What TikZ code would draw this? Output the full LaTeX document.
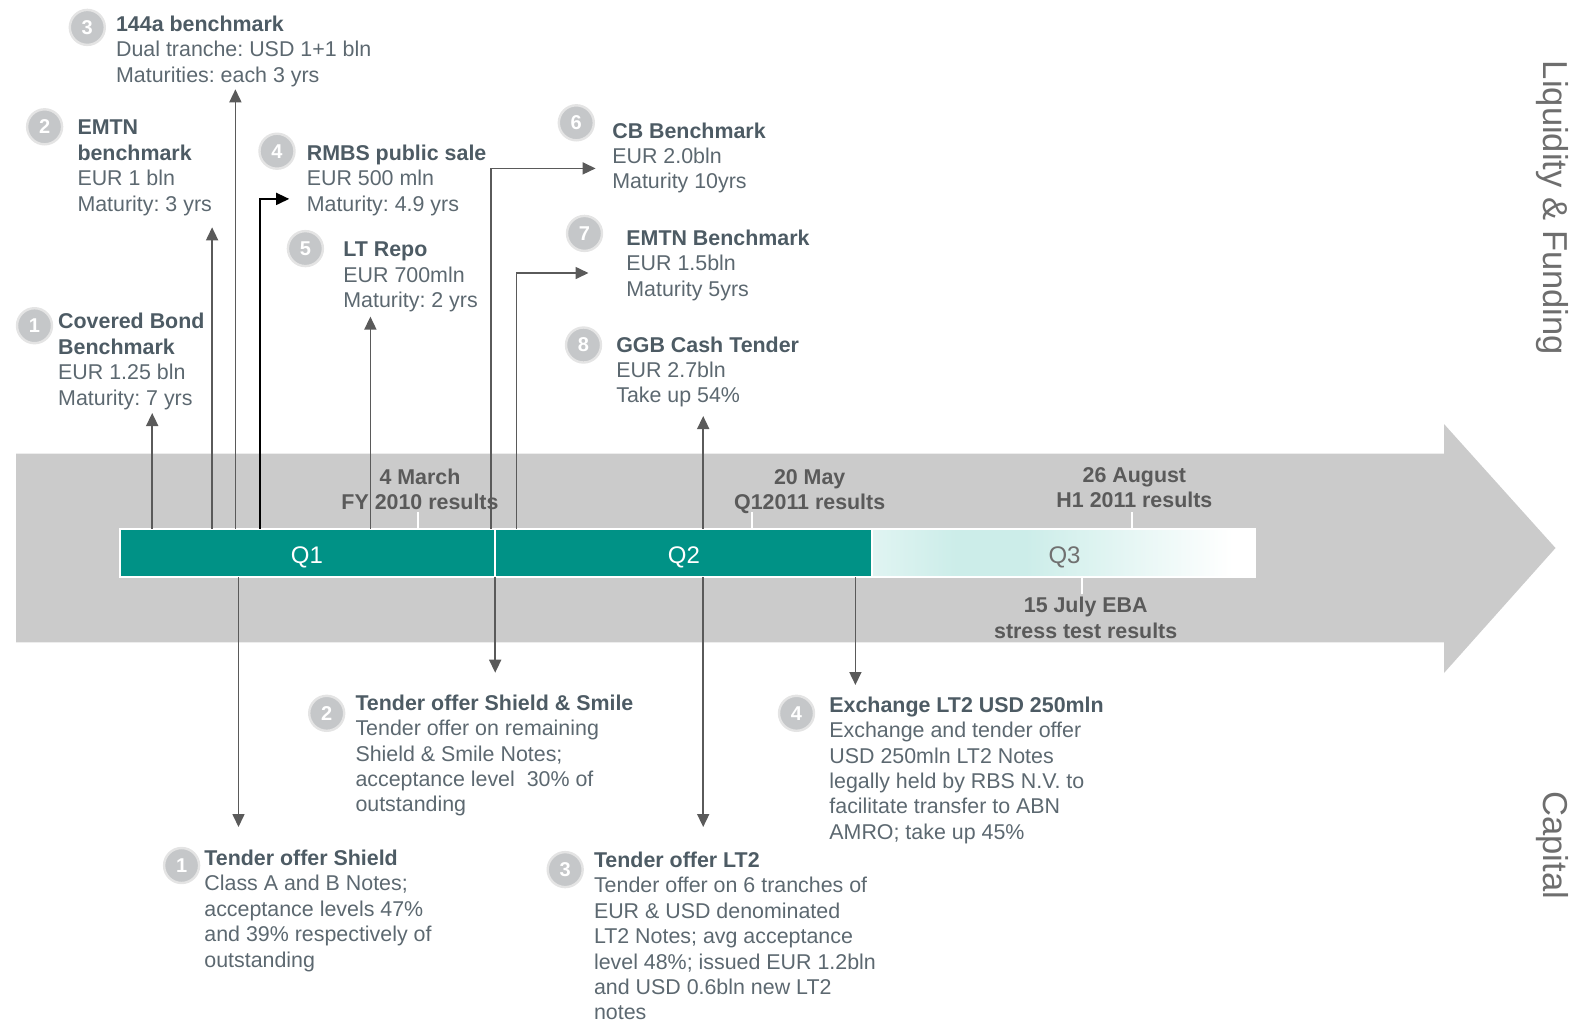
\documentclass[tikz,border=0pt]{standalone}
\usepackage{fontspec}
\setmainfont{Liberation Sans}
\usetikzlibrary{arrows.meta}
\definecolor{teal}{RGB}{0,146,134}
\definecolor{bigc}{RGB}{203,203,203}
\definecolor{badgec}{RGB}{197,199,201}
\definecolor{ringc}{RGB}{228,228,228}
\definecolor{headc}{RGB}{77,91,100}
\definecolor{bodyc}{RGB}{92,104,112}
\definecolor{tlc}{RGB}{90,90,90}
\definecolor{arrc}{RGB}{90,90,90}
\definecolor{sidec}{RGB}{110,110,110}
\definecolor{qthreea}{RGB}{224,244,242}
\definecolor{qthreeb}{RGB}{204,237,233}
\definecolor{qthreet}{RGB}{112,112,112}
\pgfdeclarehorizontalshading{qthree}{100bp}{color(0bp)=(qthreea); color(25bp)=(qthreea); color(36bp)=(qthreeb); color(45bp)=(qthreeb); color(72bp)=(white); color(100bp)=(white)}
\newcommand{\hd}[1]{\textbf{\color{headc}#1}}
\newcommand{\bodyfont}{\fontsize{10.7}{12.7}\selectfont\frenchspacing}
\begin{document}
\frenchspacing
\begin{tikzpicture}[x=0.5pt,y=-0.5pt,
  blk/.style={anchor=base west, inner sep=0pt, text=bodyc, font=\bodyfont, yshift=-0.5pt},
  tl/.style={anchor=base, inner sep=0pt, text=tlc, font=\bodyfont\bfseries, yshift=-0.5pt},
  badge/.style={circle, fill=badgec, draw=ringc, line width=1.2pt, minimum size=17.5pt, inner sep=0pt, text=white, font=\bfseries\fontsize{10}{10}\selectfont},
  arr/.style={draw=arrc, line width=0.8pt, -{Triangle[length=6.5pt,width=6pt]}},
  tick/.style={draw=white, line width=0.8pt},
  qlab/.style={font=\fontsize{12}{12}\selectfont, inner sep=0pt},
  side/.style={font=\fontsize{17.3}{18}\selectfont, text=sidec, rotate=-90, inner sep=0pt}]
\useasboundingbox (0,0) rectangle (1591,1024);

% big grey arrow
\fill[bigc] (16.2,453.6) -- (1444,453.6) -- (1444,424) -- (1555.5,548) -- (1444,673) -- (1444,642.3) -- (16.2,642.3) -- cycle;

% timeline bar
\fill[teal] (119.7,528.7) rectangle (872,577.4);
\shade[shading=qthree] (872,528.7) rectangle (1255,577.4);
\draw[white, line width=1pt] (119.7,528.7) rectangle (1255,577.4);
\draw[white, line width=1pt] (494.7,528.7) -- (494.7,577.4);
\draw[white, line width=1pt] (872,528.7) -- (872,577.4);
\node[qlab, text=white] (q1) at (307,557) {Q1};
\node[qlab, text=white] (q2) at (684,557) {Q2};
\node[qlab, text=qthreet] (q3) at (1064.5,557) {Q3};

% ticks
\draw[tick] (418,512.4) -- (418,528.7);
\draw[tick] (752,512.4) -- (752,528.7);
\draw[tick] (1132,512.4) -- (1132,528.7);
\draw[tick] (1082,577.4) -- (1082,593.6);

% timeline labels
\node[tl] (m4) at (420,483) {\begin{tabular}[t]{@{}c@{}}4 March\\FY 2010 results\end{tabular}};
\node[tl] (m20) at (809.7,483) {\begin{tabular}[t]{@{}c@{}}20 May\\Q12011 results\end{tabular}};
\node[tl] (a26) at (1134.4,481) {\begin{tabular}[t]{@{}c@{}}26 August\\H1 2011 results\end{tabular}};
\node[tl] (j15) at (1085.7,611.9) {\begin{tabular}[t]{@{}c@{}}15 July EBA\\stress test results\end{tabular}};

% top blocks
\node[badge] (b1) at (34.5,325.7) {1};
\node[blk] (t1) at (57.8,327.8) {\begin{tabular}[t]{@{}l@{}}\hd{Covered Bond}\\\hd{Benchmark}\\EUR 1.25 bln\\Maturity: 7 yrs\end{tabular}};
\node[badge] (b2) at (44.6,126.8) {2};
\node[blk] (t2) at (77.1,133.9) {\begin{tabular}[t]{@{}l@{}}\hd{EMTN}\\\hd{benchmark}\\EUR 1 bln\\Maturity: 3 yrs\end{tabular}};
\node[badge] (b3) at (87.3,27.4) {3};
\node[blk] (t3) at (115.7,30.4) {\begin{tabular}[t]{@{}l@{}}\hd{144a benchmark}\\Dual tranche: USD 1+1 bln\\Maturities: each 3 yrs\end{tabular}};
\node[badge] (b4) at (277,151.2) {4};
\node[blk] (t4) at (306.4,159.3) {\begin{tabular}[t]{@{}l@{}}\hd{RMBS public sale}\\EUR 500 mln\\Maturity: 4.9 yrs\end{tabular}};
\node[badge] (b5) at (305.4,248.6) {5};
\node[blk] (t5) at (343,255.7) {\begin{tabular}[t]{@{}l@{}}\hd{LT Repo}\\EUR 700mln\\Maturity: 2 yrs\end{tabular}};
\node[badge] (b6) at (576.3,122.8) {6};
\node[blk] (t6) at (611.9,137) {\begin{tabular}[t]{@{}l@{}}\hd{CB Benchmark}\\EUR 2.0bln\\Maturity 10yrs\end{tabular}};
\node[badge] (b7) at (584.5,233.4) {7};
\node[blk] (t7) at (626,244.5) {\begin{tabular}[t]{@{}l@{}}\hd{EMTN Benchmark}\\EUR 1.5bln\\Maturity 5yrs\end{tabular}};
\node[badge] (b8) at (583.5,345) {8};
\node[blk] (t8) at (615.9,351.1) {\begin{tabular}[t]{@{}l@{}}\hd{GGB Cash Tender}\\EUR 2.7bln\\Take up 54\%\end{tabular}};

% bottom blocks
\node[badge] (c1) at (181.6,865.5) {1};
\node[blk] (u1) at (204,864.5) {\begin{tabular}[t]{@{}l@{}}\hd{Tender offer Shield}\\Class A and B Notes;\\acceptance levels 47\%\\and 39\% respectively of\\outstanding\end{tabular}};
\node[badge] (c2) at (326.7,713.3) {2};
\node[blk] (u2) at (355.1,709.3) {\begin{tabular}[t]{@{}l@{}}\hd{Tender offer Shield \& Smile}\\Tender offer on remaining\\Shield \& Smile Notes;\\acceptance level\ \ 30\% of\\outstanding\end{tabular}};
\node[badge] (c3) at (565.2,869.6) {3};
\node[blk] (u3) at (593.6,866.5) {\begin{tabular}[t]{@{}l@{}}\hd{Tender offer LT2}\\Tender offer on 6 tranches of\\EUR \& USD denominated\\LT2 Notes; avg acceptance\\level 48\%; issued EUR 1.2bln\\and USD 0.6bln new LT2\\notes\end{tabular}};
\node[badge] (c4) at (796.5,713.3) {4};
\node[blk] (u4) at (829,711.3) {\begin{tabular}[t]{@{}l@{}}\hd{Exchange LT2 USD 250mln}\\Exchange and tender offer\\USD 250mln LT2 Notes\\legally held by RBS N.V. to\\facilitate transfer to ABN\\AMRO; take up 45\%\end{tabular}};

% side labels
\node[side] (liq) at (1552.5,208) {Liquidity \& Funding};
\node[side] (cap) at (1552.5,845.2) {Capital};

% connector coordinates
\coordinate (s1) at (152.2,528.7);  \coordinate (e1) at (152.2,413);
\coordinate (s2) at (212.1,528.7);  \coordinate (e2) at (212.1,227.3);
\coordinate (s3) at (235.4,528.7);  \coordinate (e3) at (235.4,89.3);
\coordinate (s4) at (259.8,528.7);  \coordinate (e4) at (289.2,198.9);
\coordinate (s5) at (370.4,528.7);  \coordinate (e5) at (370.4,316.6);
\coordinate (s6) at (491.1,528.7);  \coordinate (e6) at (595.6,168.4);
\coordinate (s7) at (516.5,528.7);  \coordinate (e7) at (588.5,273);
\coordinate (s8) at (703.2,528.7);  \coordinate (e8) at (703.2,416);
\coordinate (d1s) at (238.5,577.4); \coordinate (d1e) at (238.5,827);
\coordinate (d2s) at (495.2,577.4); \coordinate (d2e) at (495.2,672.7);
\coordinate (d3s) at (703.2,577.4); \coordinate (d3e) at (703.2,827);
\coordinate (d4s) at (855.4,577.4); \coordinate (d4e) at (855.4,685);

% connectors
\draw[arr] (s1) -- (e1);
\draw[arr] (s2) -- (e2);
\draw[arr] (s3) -- (e3);
\draw[arr, draw=black] (s4) |- (e4);
\draw[arr] (s5) -- (e5);
\draw[arr] (s6) |- (e6);
\draw[arr] (s7) |- (e7);
\draw[arr] (s8) -- (e8);
\draw[arr] (d1s) -- (d1e);
\draw[arr] (d2s) -- (d2e);
\draw[arr] (d3s) -- (d3e);
\draw[arr] (d4s) -- (d4e);
\end{tikzpicture}
\end{document}
